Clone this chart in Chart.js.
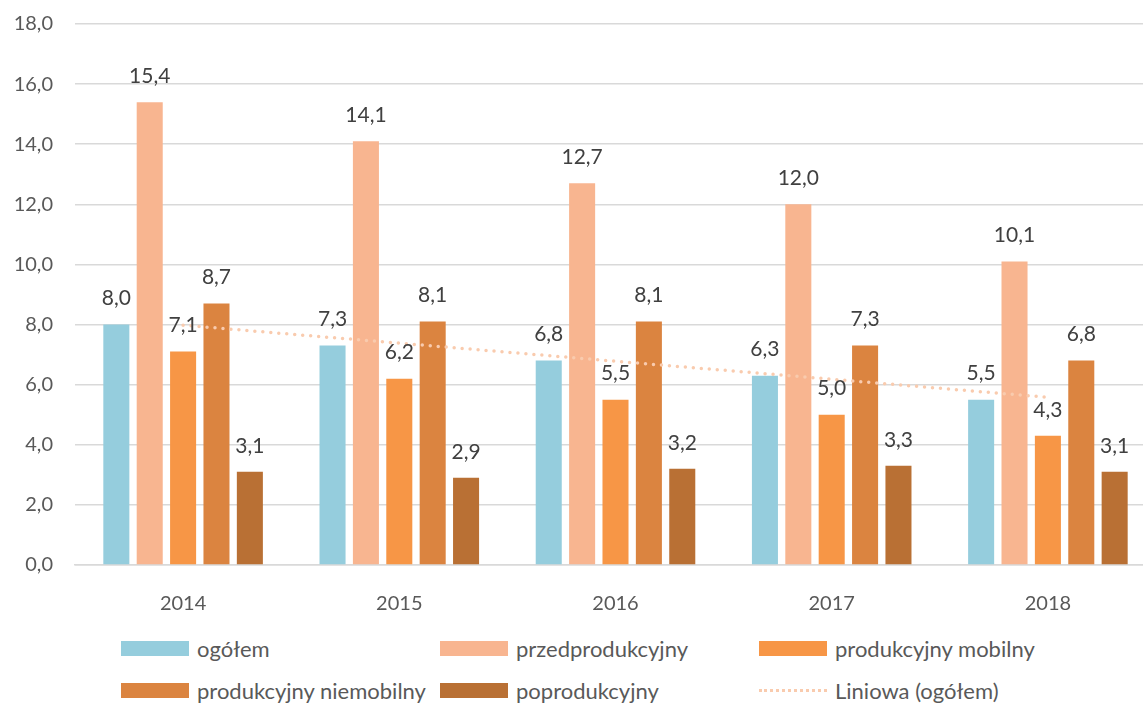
<!DOCTYPE html>
<html>
<head>
<meta charset="utf-8">
<script src="https://cdn.jsdelivr.net/npm/chart.js@4.4.1/dist/chart.umd.min.js"></script>
<style>
  html, body { margin: 0; padding: 0; background: #fff; overflow: hidden; }
  body { width: 1143px; height: 706px; position: relative; font-family: Lato, 'Open Sans', sans-serif; }
  #wrap { position: absolute; left: 0; top: 0; width: 1160px; height: 620px; }
  .lg { position: absolute; display: flex; align-items: center; font-size: 22px; color: #595959; white-space: nowrap; }
  .lg .box { width: 68px; height: 15px; margin-right: 8px; }
  .lg .dots { width: 68px; height: 0; border-top: 3px dotted #F9CBAE; margin-right: 8px; }
</style>
</head>
<body>
<div id="wrap"><canvas id="chart"></canvas></div>
<div id="legend"></div>
<script>
// ===== Dane
const years = ['2014', '2015', '2016', '2017', '2018'];
const ogolem          = [8.0, 7.3, 6.8, 6.3, 5.5];
const przedprod       = [15.4, 14.1, 12.7, 12.0, 10.1];
const prodMobilny     = [7.1, 6.2, 5.5, 5.0, 4.3];
const prodNiemobilny  = [8.7, 8.1, 8.1, 7.3, 6.8];
const poprod          = [3.1, 2.9, 3.2, 3.3, 3.1];
const trendOgolem     = [7.98, 7.38, 6.78, 6.18, 5.58];
const yTicks          = [0, 2, 4, 6, 8, 10, 12, 14, 16, 18];

const COL = {
  ogolem: '#95CDDD',
  przed:  '#F8B590',
  mob:    '#F79646',
  niemob: '#DB8440',
  popr:   '#B97034',
  trend:  '#F9CBAE',
  text:   '#595959',
  label:  '#404040',
  grid:   '#D9D9D9'
};
const FONT = 'Lato, "Open Sans", sans-serif';
const fmt = v => v.toFixed(1).replace('.', ',');

// etykiety nad słupkami
const barLabels = {
  id: 'barLabels',
  afterDatasetsDraw(chart) {
    const c = chart.ctx;
    c.save();
    c.font = '21px ' + FONT;
    c.fillStyle = COL.label;
    c.textAlign = 'center';
    c.textBaseline = 'middle';
    chart.data.datasets.forEach((ds, i) => {
      if (ds.type === 'line') return;
      chart.getDatasetMeta(i).data.forEach((bar, j) => {
        c.fillText(fmt(ds.data[j]), bar.x, bar.y - 26);
      });
    });
    c.restore();
  }
};

const bar = (label, data, color) => ({
  label, data, backgroundColor: color, borderWidth: 0,
  categoryPercentage: 0.772, barPercentage: 0.78, order: 2
});

new Chart(document.getElementById('chart'), {
  type: 'bar',
  data: {
    labels: years,
    datasets: [
      bar('ogółem', ogolem, COL.ogolem),
      bar('przedprodukcyjny', przedprod, COL.przed),
      bar('produkcyjny mobilny', prodMobilny, COL.mob),
      bar('produkcyjny niemobilny', prodNiemobilny, COL.niemob),
      bar('poprodukcyjny', poprod, COL.popr),
      {
        type: 'line',
        label: 'Liniowa (ogółem)',
        data: trendOgolem,
        borderColor: COL.trend,
        borderWidth: 3.5,
        borderDash: [0, 8],
        borderCapStyle: 'round',
        pointRadius: 0,
        fill: false,
        order: 1
      }
    ]
  },
  options: {
    responsive: true,
    maintainAspectRatio: false,
    animation: false,
    layout: { padding: { top: 24, right: 4, left: 0, bottom: 0 } },
    plugins: { legend: { display: false }, tooltip: { enabled: false } },
    scales: {
      x: {
        grid: { display: false },
        border: { color: COL.grid, width: 1.5 },
        ticks: { color: COL.text, font: { family: FONT, size: 20 }, padding: 19 },
        afterFit: s => { s.height = 55; }
      },
      y: {
        min: 0, max: 18,
        afterBuildTicks: s => { s.ticks = yTicks.map(v => ({ value: v })); },
        grid: { color: COL.grid, lineWidth: 1.5, drawTicks: false },
        border: { display: false },
        ticks: { color: COL.text, font: { family: FONT, size: 20 }, padding: 22, callback: v => fmt(v) },
        afterFit: s => { s.width = 75; s.paddingTop = 0; s.paddingBottom = 0; }
      }
    }
  },
  plugins: [barLabels]
});

// ===== legenda (2 rzędy x 3 kolumny)
const legendItems = [
  ['ogółem', COL.ogolem, 121, 648],
  ['przedprodukcyjny', COL.przed, 440, 648],
  ['produkcyjny mobilny', COL.mob, 759, 648],
  ['produkcyjny niemobilny', COL.niemob, 121, 690],
  ['poprodukcyjny', COL.popr, 440, 690],
  ['Liniowa (ogółem)', null, 759, 690]
];
document.getElementById('legend').innerHTML = legendItems.map(([t, c, x, y]) => `
  <div class="lg" style="left:${x}px;top:${y - 14}px;height:28px">
    ${c ? `<span class="box" style="background:${c}"></span>` : '<span class="dots"></span>'}${t}
  </div>`).join('');
</script>
</body>
</html>
